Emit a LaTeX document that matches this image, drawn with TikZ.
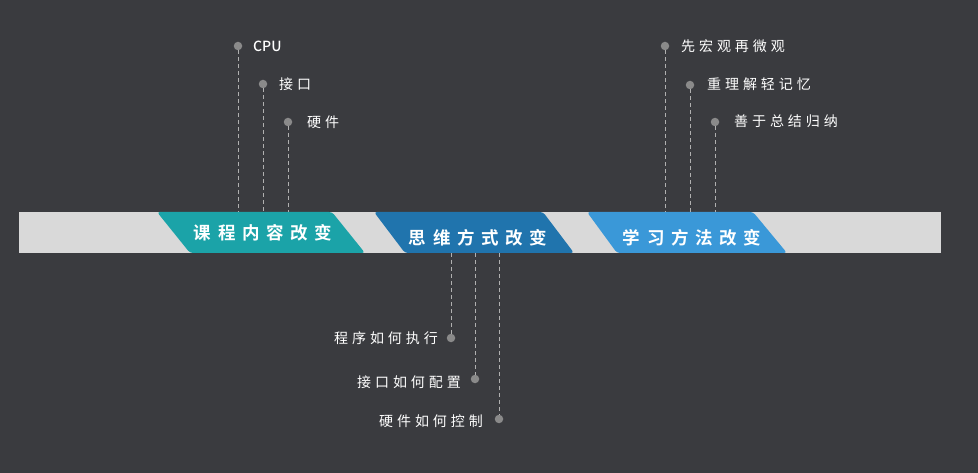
\documentclass[tikz,border=0pt]{standalone}
\usepackage{fontspec}
\newfontfamily\cjk[LetterSpace=28]{Noto Sans CJK SC}
\newfontfamily\cjkplain{Noto Sans CJK SC Medium}
\newfontfamily\cjkbold[LetterSpace=38]{Noto Sans CJK SC Bold}
\definecolor{bg}{HTML}{3A3B3F}
\definecolor{barc}{HTML}{D9D9D9}
\definecolor{teal}{HTML}{1BA3A8}
\definecolor{mblue}{HTML}{2074AD}
\definecolor{lblue}{HTML}{3A98D8}
\definecolor{dotc}{HTML}{8A8A8A}
\definecolor{dashc}{HTML}{B0B0B0}
\begin{document}
\begin{tikzpicture}[x=1pt,y=-1pt,
  lbl/.style={text=white,font=\cjk\fontsize{14}{14}\selectfont,inner sep=0pt},
  ttl/.style={text=white,font=\cjkbold\fontsize{17.5}{17.5}\selectfont,inner sep=0pt},
  dotn/.style={circle,fill=dotc,minimum size=8.5pt,inner sep=0pt},
  lead/.style={draw=dashc,line width=0.8pt,dash pattern=on 4pt off 3pt},
  para/.style={rounded corners=3pt}]
\useasboundingbox[fill=bg] (0,0) rectangle (978,473);
% bar
\fill[barc] (19,212) rectangle (941,253);
% parallelograms
\fill[teal,para] (157,212) -- (332,212) -- (365,253) -- (190,253) -- cycle;
\fill[mblue,para] (374,212) -- (543,212) -- (574,253) -- (405,253) -- cycle;
\fill[lblue,para] (587,212) -- (753,212) -- (787,253) -- (617,253) -- cycle;
\node[ttl] (t1) at (263,233) {课程内容改变};
\node[ttl] (t2) at (478,238) {思维方式改变};
\node[ttl] (t3) at (692,238) {学习方法改变};
% top-left group
\coordinate (a1) at (238,212); \node[dotn] (d1) at (238,46) {};
\coordinate (a2) at (263,212); \node[dotn] (d2) at (263,84) {};
\coordinate (a3) at (288,212); \node[dotn] (d3) at (288,122) {};
\draw[lead] (d1) -- (a1); \draw[lead] (d2) -- (a2); \draw[lead] (d3) -- (a3);
\node[text=white,font=\cjkplain\fontsize{14}{14}\selectfont,inner sep=0pt,anchor=west] (l1) at (253,46) {CPU};
\node[lbl,anchor=west] (l2) at (279,84) {接口};
\node[lbl,anchor=west] (l3) at (307,122) {硬件};
% top-right group
\coordinate (b1) at (665,212); \node[dotn] (e1) at (665,46) {};
\coordinate (b2) at (690,212); \node[dotn] (e2) at (690,85) {};
\coordinate (b3) at (715,212); \node[dotn] (e3) at (715,122) {};
\draw[lead] (e1) -- (b1); \draw[lead] (e2) -- (b2); \draw[lead] (e3) -- (b3);
\node[lbl,anchor=west] (m1) at (681,46) {先宏观再微观};
\node[lbl,anchor=west] (m2) at (707,84) {重理解轻记忆};
\node[lbl,anchor=west] (m3) at (734,121) {善于总结归纳};
% bottom group
\coordinate (c1) at (451,253); \node[dotn] (f1) at (451,338) {};
\coordinate (c2) at (475,253); \node[dotn] (f2) at (475,379) {};
\coordinate (c3) at (499,253); \node[dotn] (f3) at (499,419) {};
\draw[lead] (c1) -- (f1); \draw[lead] (c2) -- (f2); \draw[lead] (c3) -- (f3);
\node[lbl,anchor=east] (n1) at (438,338) {程序如何执行};
\node[lbl,anchor=east] (n2) at (461,382) {接口如何配置};
\node[lbl,anchor=east] (n3) at (483,421) {硬件如何控制};
\end{tikzpicture}
\end{document}
